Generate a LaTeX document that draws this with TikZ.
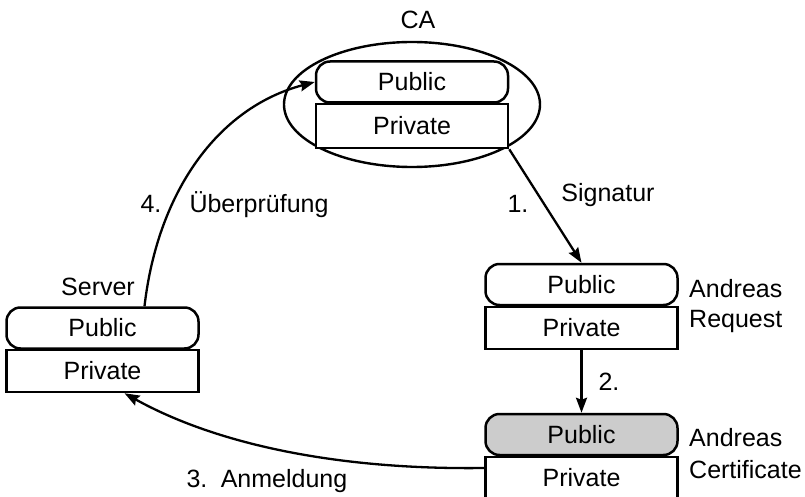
\documentclass[tikz,border=0pt]{standalone}
\usepackage{fontspec}
\setmainfont{Liberation Sans}
\usetikzlibrary{arrows.meta,shapes.geometric}
\begin{document}
\begin{tikzpicture}[x=1pt,y=-1pt,
  every node/.style={font=\fontsize{25}{30}\selectfont},
  keybox/.style={draw, line width=2.5pt, minimum width=192pt, inner sep=0pt},
  pubbox/.style={keybox, rounded corners=14pt, minimum height=41pt},
  privbox/.style={keybox, minimum height=42pt},
  lbl/.style={anchor=base, inner sep=0pt},
  sidelbl/.style={anchor=base west, inner sep=0pt},
  conn/.style={line width=2.3pt, -{Stealth[length=15pt,width=11pt,inset=2pt]}}]
\useasboundingbox (0,0) rectangle (805,497);

% CA
\node[ellipse, draw, line width=2.4pt, minimum width=256pt, minimum height=125pt, inner sep=0pt] (caell) at (412,104.5) {};
\node[pubbox, fill=white] (capub) at (412,82) {Public};
\node[privbox, fill=white, minimum height=44pt] (capriv) at (412,126) {Private};
\node[lbl] (calbl) at (418,29) {CA};

% Andreas Request
\node[pubbox] (reqpub) at (581.5,284.5) {Public};
\node[privbox] (reqpriv) at (581.5,328) {Private};
\node[sidelbl] (reqa) at (689,297) {Andreas};
\node[sidelbl] (reqb) at (689,327) {Request};

% Andreas Certificate
\node[pubbox, fill=black!20] (certpub) at (581.5,434.5) {Public};
\node[privbox] (certpriv) at (581.5,478) {Private};
\node[sidelbl] (certa) at (689,446) {Andreas};
\node[sidelbl] (certb) at (689,478) {Certificate};

% Server
\node[pubbox] (srvpub) at (102.5,328) {Public};
\node[privbox] (srvpriv) at (102.5,371) {Private};
\node[lbl] (srvlbl) at (98,295) {Server};

% connectors
\draw[conn] (capriv.south east) -- (reqpub.north);
\draw[conn] (reqpriv.south) -- (certpub.north);
\coordinate (c3s) at ([yshift=10pt]certpriv.west);
\coordinate (c3e) at ([xshift=22pt]srvpriv.south);
\draw[conn] (c3s) .. controls +(-150,2) and +(90,50) .. (c3e);
\coordinate (c4s) at ([xshift=42pt]srvpub.north);
\draw[conn] (c4s) .. controls +(13,-113) and +(-98,26) .. (capub.west);

% labels
\node[lbl] (l1) at (518,212) {1.};
\node[lbl] (lsig) at (608,201) {Signatur};
\node[lbl] (l2) at (609,390) {2.};
\node[lbl] (l3) at (197,487) {3.};
\node[lbl] (lanm) at (284,487) {Anmeldung};
\node[lbl] (l4) at (151,212) {4.};
\node[lbl] (lueb) at (259,212) {Überprüfung};
\end{tikzpicture}
\end{document}
